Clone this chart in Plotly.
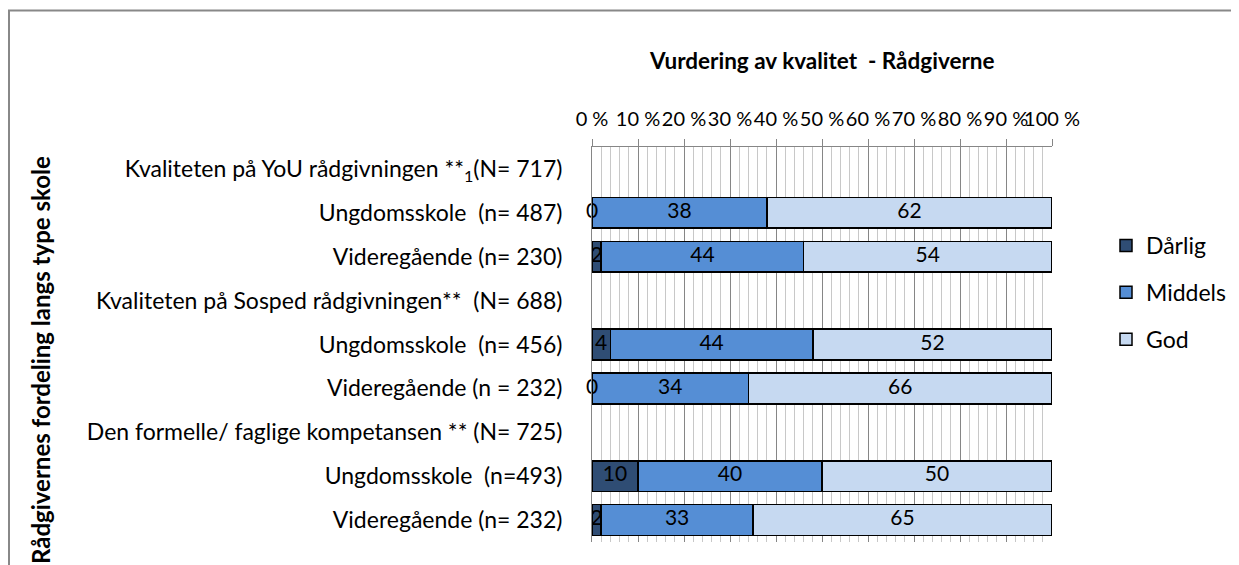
import plotly.graph_objects as go

categories = [
    "Kvaliteten på YoU rådgivningen **<sub>1</sub>(N= 717)",
    "Ungdomsskole  (n= 487)",
    "Videregående (n= 230)",
    "Kvaliteten på Sosped rådgivningen**  (N= 688)",
    "Ungdomsskole  (n= 456)",
    "Videregående (n = 232)",
    "Den formelle/ faglige kompetansen ** (N= 725)",
    "Ungdomsskole  (n=493)",
    "Videregående (n= 232)",
]
darlig = [None, 0, 2, None, 4, 0, None, 10, 2]
middels = [None, 38, 44, None, 44, 34, None, 40, 33]
god = [None, 62, 54, None, 52, 66, None, 50, 65]

series = [("Dårlig", darlig, "#2F4D74"), ("Middels", middels, "#558ED5"), ("God", god, "#C6D9F1")]
tick_vals = list(range(0, 101, 10))
tick_text = [f"{v} %" for v in tick_vals]

FONT = "Lato"
ypos = list(range(len(categories)))

# page offset (body margin) compensation
OFF = 8
W, H = 1239 - OFF, 565 - OFF
PL, PR, PT, PB = 592, 1052, 147, 542  # plot area in page pixels


def px_x(x):
    return (x - PL) / (PR - PL)


def px_y(y):
    return (PB - y) / (PB - PT)


def cx(x):
    return (x - OFF) / W


def cy(y):
    return 1 - (y - OFF) / H


fig = go.Figure()
for name, vals, col in series:
    fig.add_trace(go.Bar(
        y=ypos, x=vals, name=name, orientation="h",
        marker=dict(color=col, line=dict(color="#000000", width=1.5)),
        legendgroup=name, hoverinfo="skip",
    ))

# data labels at segment centres
lx, ly, lt = [], [], []
for j in range(len(categories)):
    start = 0
    for name, vals, col in series:
        v = vals[j]
        if v is None:
            continue
        lx.append(start + v / 2)
        ly.append(j)
        lt.append(str(v))
        start += v
fig.add_trace(go.Scatter(x=lx, y=ly, mode="text", text=lt, showlegend=False, cliponaxis=False,
                         textfont=dict(family=FONT, size=21, color="#000000"),
                         textposition="middle center", hoverinfo="skip"))

fig.update_layout(
    barmode="stack", bargap=0.3,
    width=W, height=H,
    margin=dict(l=PL - OFF, r=W - (PR - OFF), t=PT - OFF, b=H - (PB - OFF), pad=0,
                autoexpand=False),
    paper_bgcolor="white", plot_bgcolor="white",
    font=dict(family=FONT, size=20, color="#000000"),
    legend=dict(xref="container", yref="container", x=cx(1106), y=cy(224),
                xanchor="left", yanchor="top",
                font=dict(family=FONT, size=23), tracegroupgap=14,
                itemwidth=30),
    showlegend=True,
    xaxis=dict(side="top", range=[0, 100], tickvals=tick_vals, ticktext=tick_text,
               tickangle=0, ticks="outside", ticklen=7, tickcolor="#868686",
               showgrid=True, gridcolor="#868686", gridwidth=1,
               minor=dict(dtick=2, showgrid=True, gridcolor="#C8C8C8", gridwidth=1, ticks=""),
               showline=True, linecolor="#868686", linewidth=1,
               zeroline=False, tickfont=dict(family=FONT, size=20),
               ticklabelstandoff=5, fixedrange=True, automargin=False),
    yaxis=dict(tickvals=ypos, ticktext=categories, autorange=False,
               range=[len(categories) - 0.5, -0.5],
               showgrid=False, zeroline=False, showline=True, linecolor="#868686",
               linewidth=1, ticks="", ticklabelstandoff=24,
               tickfont=dict(family=FONT, size=23), fixedrange=True, automargin=False),
)

fig.add_annotation(text="<b>Vurdering av kvalitet  - Rådgiverne</b>", xref="paper", yref="paper",
                   x=0.5, y=px_y(61), showarrow=False, xanchor="center", yanchor="middle",
                   font=dict(family=FONT, size=22.5))
fig.add_annotation(text="<b>Rådgivernes fordeling langs type skole</b>", xref="paper", yref="paper",
                   x=px_x(40), y=px_y(360), showarrow=False, textangle=-90,
                   xanchor="center", yanchor="middle", font=dict(family=FONT, size=24))

fig.add_shape(type="rect", xref="paper", yref="paper",
              x0=px_x(9), x1=px_x(1300),
              y0=px_y(640), y1=px_y(10.5),
              line=dict(color="#888888", width=2), fillcolor="rgba(0,0,0,0)", layer="below")

fig.write_html("out.html")
